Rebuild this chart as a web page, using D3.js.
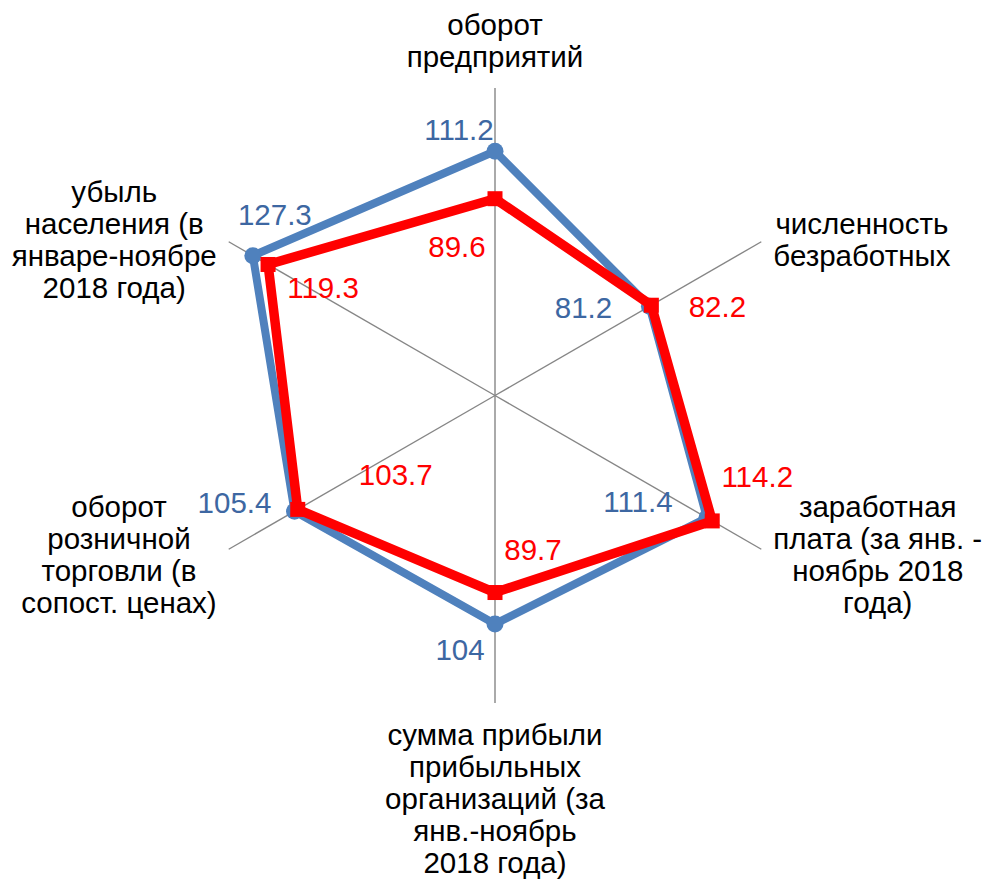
<!DOCTYPE html>
<html>
<head>
<meta charset="utf-8">
<script src="https://cdn.jsdelivr.net/npm/d3@7"></script>
<style>
  body { margin: 0; background: #fff; }
  text { font-family: "Liberation Sans", Arial, sans-serif; }
</style>
</head>
<body>
<div class="radar"></div>
<script>
// categories (each label split into its lines)
var categories = [
  ["оборот", "предприятий"],
  ["численность", "безработных"],
  ["заработная", "плата (за янв. -", "ноябрь 2018", "года)"],
  ["сумма прибыли", "прибыльных", "организаций (за", "янв.-ноябрь", "2018 года)"],
  ["оборот", "розничной", "торговли (в", "сопост. ценах)"],
  ["убыль", "населения (в", "январе-ноябре", "2018 года)"]
];

var blueValues = [111.2, 81.2, 111.4, 104, 105.4, 127.3];
var redValues = [89.6, 82.2, 114.2, 89.7, 103.7, 119.3];

// label nudges (dx, dy from point to text centre/baseline)
var blueLabelOffsets = [[-36, -11], [-66, 12], [-69, -6], [-35, 36], [-60, 2], [22, -31]];
var redLabelOffsets = [[-38, 58], [66, 12], [45, -34], [38, -33], [98, -24], [55, 34]];

var svgWidth = 983;
var svgHeight = 885;
var cx = 495;
var cy = 395.5;
var radius = 307.5;
var maxValue = 140;

var svg = d3.select(".radar")
  .append("svg")
  .attr("width", svgWidth)
  .attr("height", svgHeight);

var rScale = d3.scaleLinear()
  .domain([0, maxValue])
  .range([0, radius]);

var n = categories.length;
function angle(i) {
  return -Math.PI / 2 + i * 2 * Math.PI / n;
}
function point(i, v) {
  return [cx + rScale(v) * Math.cos(angle(i)), cy + rScale(v) * Math.sin(angle(i))];
}

// axis spokes
svg.append("g")
  .selectAll("line")
  .data(categories)
  .enter()
  .append("line")
  .attr("x1", cx)
  .attr("y1", cy)
  .attr("x2", (d, i) => point(i, maxValue)[0])
  .attr("y2", (d, i) => point(i, maxValue)[1])
  .attr("stroke", "#868686")
  .attr("stroke-width", 1.4);

// category labels
var fontSize = 29.5;
var lineH = 32;
var catGroup = svg.append("g");
categories.forEach(function (lines, i) {
  var end = point(i, maxValue);
  var a = angle(i);
  var cosA = Math.cos(a), sinA = Math.sin(a);
  var t = catGroup.append("text")
    .attr("font-size", fontSize)
    .attr("fill", "#000")
    .attr("text-anchor", "middle");
  lines.forEach(function (l, j) {
    t.append("tspan").attr("x", 0).attr("y", j * lineH).text(l);
  });
  var w = d3.max(t.selectAll("tspan").nodes(), nd => nd.getComputedTextLength());
  var blockH = (lines.length - 1) * lineH;
  var x, y;
  if (Math.abs(cosA) < 0.01) {
    x = end[0];
    if (sinA < 0) y = end[1] - 21 - blockH;
    else y = end[1] + 42;
  } else {
    x = end[0] + (cosA > 0 ? 1 : -1) * (12 + w / 2);
    var midOffset = sinA < 0 ? -2 : 6;
    y = end[1] + midOffset - blockH / 2 + 10;
  }
  t.attr("transform", `translate(${x}, ${y})`);
});

var lineGen = d3.line().curve(d3.curveLinearClosed);

function drawSeries(values, color, width) {
  svg.append("path")
    .attr("d", lineGen(values.map((v, i) => point(i, v))))
    .attr("fill", "none")
    .attr("stroke", color)
    .attr("stroke-width", width)
    .attr("stroke-linejoin", "round");
}

drawSeries(blueValues, "#4F81BD", 8);

svg.append("g")
  .selectAll("circle")
  .data(blueValues)
  .enter()
  .append("circle")
  .attr("cx", (d, i) => point(i, d)[0])
  .attr("cy", (d, i) => point(i, d)[1])
  .attr("r", 8.5)
  .attr("fill", "#4F81BD");

drawSeries(redValues, "#FF0000", 9.5);

svg.append("g")
  .selectAll("rect")
  .data(redValues)
  .enter()
  .append("rect")
  .attr("x", (d, i) => point(i, d)[0] - 7.5)
  .attr("y", (d, i) => point(i, d)[1] - 7.5)
  .attr("width", 15)
  .attr("height", 15)
  .attr("fill", "#FF0000");

// data labels
function drawLabels(values, offsets, color) {
  svg.append("g")
    .selectAll("text")
    .data(values)
    .enter()
    .append("text")
    .attr("x", (d, i) => point(i, d)[0] + offsets[i][0])
    .attr("y", (d, i) => point(i, d)[1] + offsets[i][1])
    .attr("text-anchor", "middle")
    .attr("font-size", fontSize)
    .attr("fill", color)
    .text(d => d);
}
drawLabels(blueValues, blueLabelOffsets, "#3D67A2");
drawLabels(redValues, redLabelOffsets, "#FF0000");
</script>
</body>
</html>
